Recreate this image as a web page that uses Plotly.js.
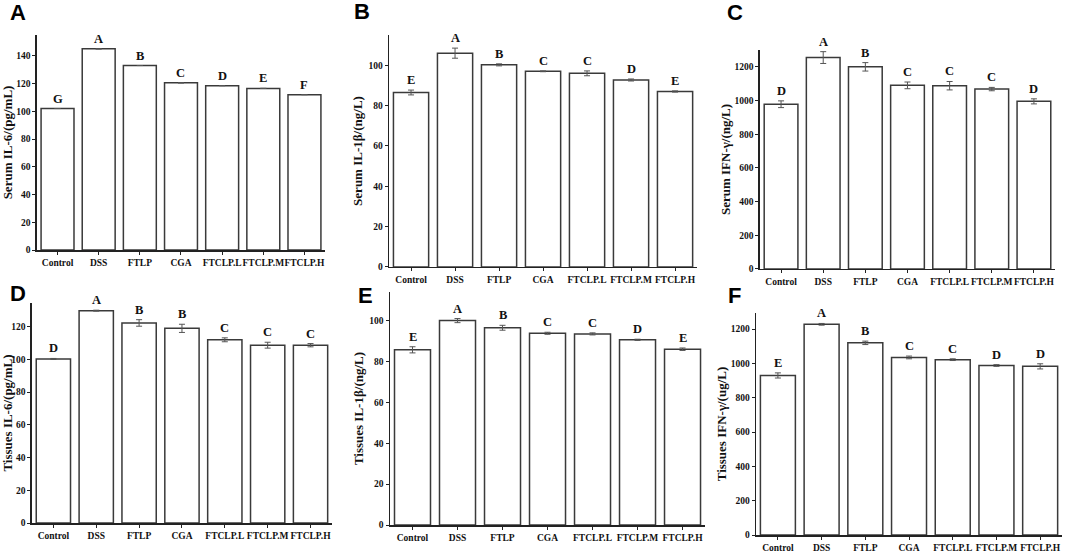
<!DOCTYPE html>
<html>
<head>
<meta charset="utf-8">
<script src="https://cdn.plot.ly/plotly-3.0.1.min.js"></script>
<style>
  body { margin: 0; background: #fff; }
  #chart { width: 1065px; height: 553px; }
</style>
</head>
<body>
<div id="chart"></div>
<script>
// groups on the x axis
var groups = ['Control', 'DSS', 'FTLP', 'CGA', 'FTCLP.L', 'FTCLP.M', 'FTCLP.H'];

// A - serum IL-6
var serumIL6 = [102, 145, 133, 120.5, 118.5, 116.5, 112];
var serumIL6Err = [0, 0, 0, 0, 0, 0, 0];
var serumIL6Sig = ['G', 'A', 'B', 'C', 'D', 'E', 'F'];

// B - serum IL-1β
var serumIL1b = [86.5, 106, 100.2, 97, 96, 92.7, 87];
var serumIL1bErr = [1.2, 2.5, 0.5, 0.2, 1.2, 0.5, 0.3];
var serumIL1bSig = ['E', 'A', 'B', 'C', 'C', 'D', 'E'];

// C - serum IFN-γ
var serumIFN = [978, 1255, 1200, 1090, 1088, 1068, 995];
var serumIFNErr = [20, 35, 25, 20, 25, 10, 15];
var serumIFNSig = ['D', 'A', 'B', 'C', 'C', 'C', 'D'];

// D - tissues IL-6
var tissueIL6 = [100.3, 129.8, 122.3, 119, 112, 108.7, 108.7];
var tissueIL6Err = [0.3, 0.3, 2, 2.5, 1.2, 1.8, 1];
var tissueIL6Sig = ['D', 'A', 'B', 'B', 'C', 'C', 'C'];

// E - tissues IL-1β
var tissueIL1b = [85.7, 100, 96.5, 93.8, 93.5, 90.6, 86];
var tissueIL1bErr = [1.5, 1, 1.2, 0.5, 0.5, 0.3, 0.6];
var tissueIL1bSig = ['E', 'A', 'B', 'C', 'C', 'D', 'E'];

// F - tissues IFN-γ
var tissueIFN = [930, 1228, 1120, 1035, 1022, 988, 983];
var tissueIFNErr = [15, 5, 10, 8, 5, 5, 15];
var tissueIFNSig = ['E', 'A', 'B', 'C', 'C', 'D', 'D'];

var panels = [
  {tag: 'A', title: 'Serum IL-6/(pg/mL)', y: serumIL6, err: serumIL6Err, sig: serumIL6Sig,
   ymax: 155, dtick: 20, xd: [0.0347, 0.3052], yd: [0.5479, 0.9367], standoff: 1, tx: 18, ty: 13},
  {tag: 'B', title: 'Serum IL-1β/(ng/L)', y: serumIL1b, err: serumIL1bErr, sig: serumIL1bSig,
   ymax: 115, dtick: 20, xd: [0.3653, 0.6545], yd: [0.5172, 0.9367], standoff: 3, tx: 362, ty: 11},
  {tag: 'C', title: 'Serum IFN-γ/(ng/L)', y: serumIFN, err: serumIFNErr, sig: serumIFNSig,
   ymax: 1300, dtick: 200, xd: [0.7136, 0.9906], yd: [0.5136, 0.9096], standoff: 1, tx: 735, ty: 13},
  {tag: 'D', title: 'Tissues IL-6/(pg/mL)', y: tissueIL6, err: tissueIL6Err, sig: tissueIL6Sig,
   ymax: 134.5, dtick: 20, xd: [0.0300, 0.3117], yd: [0.0542, 0.4521], standoff: 1, tx: 18, ty: 293},
  {tag: 'E', title: 'Tissues IL-1β/(ng/L)', y: tissueIL1b, err: tissueIL1bErr, sig: tissueIL1bSig,
   ymax: 114, dtick: 20, xd: [0.3662, 0.6620], yd: [0.0506, 0.4720], standoff: 3, tx: 365, ty: 295},
  {tag: 'F', title: 'Tissues IFN-γ/(ug/L)', y: tissueIFN, err: tissueIFNErr, sig: tissueIFNSig,
   ymax: 1294, dtick: 200, xd: [0.7099, 0.9972], yd: [0.0325, 0.4340], standoff: 1, tx: 734, ty: 295}
];

var serif = 'Liberation Serif, Times New Roman, serif';
var traces = [];
var annotations = [];
var layout = {
  width: 1065,
  height: 553,
  margin: {l: 0, r: 0, t: 0, b: 0},
  paper_bgcolor: '#fff',
  plot_bgcolor: '#fff',
  showlegend: false,
  font: {family: serif, color: '#111'}
};

panels.forEach(function (p, i) {
  var n = i === 0 ? '' : String(i + 1);
  traces.push({
    type: 'bar',
    x: groups,
    y: p.y,
    xaxis: 'x' + n,
    yaxis: 'y' + n,
    width: 0.8,
    marker: {color: '#fff', line: {color: '#3a3a3a', width: 1.5}},
    error_y: {type: 'data', array: p.err, visible: true, color: '#555', thickness: 1, width: 3},
    hoverinfo: 'x+y'
  });

  layout['xaxis' + n] = {
    domain: p.xd,
    anchor: 'y' + n,
    range: [-0.5, 6.5],
    showline: true, linecolor: '#222', linewidth: 1.5,
    ticks: 'outside', ticklen: 3, tickcolor: '#222',
    showgrid: false, zeroline: false,
    tickfont: {family: serif, size: 9.5, weight: 'bold', color: '#111'},
    tickangle: 0
  };
  layout['yaxis' + n] = {
    domain: p.yd,
    anchor: 'x' + n,
    range: [0, p.ymax],
    dtick: p.dtick,
    showline: true, linecolor: '#222', linewidth: 1.5,
    ticks: 'outside', ticklen: 3, tickcolor: '#222',
    showgrid: false, zeroline: false,
    tickfont: {family: serif, size: 9.5, weight: 'bold', color: '#111'},
    title: {text: p.title, standoff: p.standoff,
            font: {family: serif, size: 13, weight: 'bold', color: '#111'}}
  };

  // significance letters above each bar
  p.sig.forEach(function (s, j) {
    annotations.push({
      xref: 'x' + n, yref: 'y' + n,
      x: groups[j], y: p.y[j] + p.err[j],
      text: s, showarrow: false,
      yanchor: 'bottom', yshift: 1,
      font: {family: serif, size: 12.5, weight: 'bold', color: '#111'}
    });
  });

  // panel tag
  annotations.push({
    xref: 'paper', yref: 'paper',
    x: p.tx / 1065, y: 1 - p.ty / 553,
    xanchor: 'center', yanchor: 'middle',
    text: '<b>' + p.tag + '</b>', showarrow: false,
    font: {family: 'Liberation Sans, Arial, sans-serif', size: 22, color: '#000'}
  });
});

layout.annotations = annotations;

Plotly.newPlot('chart', traces, layout, {displayModeBar: false, staticPlot: true});
</script>
</body>
</html>
